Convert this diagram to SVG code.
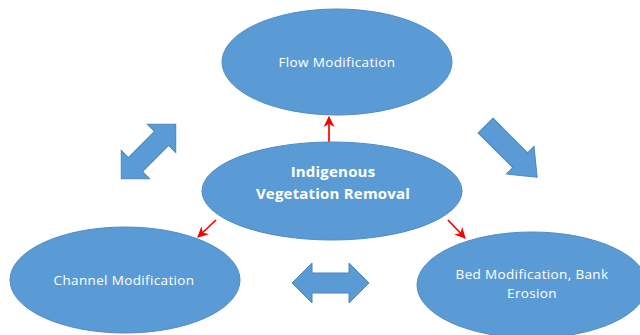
<svg xmlns="http://www.w3.org/2000/svg" width="640" height="335" viewBox="0 0 640 335">
<style>
.node{fill:#5b9bd5;stroke:#4f8cc6;stroke-width:1}
.lbl{font-family:"Open Sans","Liberation Sans",sans-serif;font-size:13.5px;letter-spacing:0.35px;fill:#ffffff;text-anchor:middle}
.bold{font-weight:bold;font-size:15px;letter-spacing:0.2px}
.blk{fill:#5b9bd5;stroke:#4a86c0;stroke-width:1}
.red{stroke:#ff0000;stroke-width:1.7;fill:none;marker-end:url(#ah)}
</style>
<defs>
<marker id="ah" viewBox="0 0 10 10" refX="9" refY="5" markerWidth="6.5" markerHeight="6.5" orient="auto" markerUnits="strokeWidth">
<path d="M0 0 L10 5 L0 10 L3 5 Z" fill="#ff0000"/>
</marker>
</defs>
<rect width="640" height="335" fill="#ffffff"/>
<g id="connectors">
<line class="red" x1="329" y1="142" x2="329" y2="117"/>
<line class="red" x1="216" y1="220" x2="198" y2="237"/>
<line class="red" x1="448" y1="220" x2="465" y2="238"/>
<path class="blk" transform="translate(148.5,151.5) rotate(-45)" d="M-38.5 0 L-18.5 -20 L-18.5 -10 L18.5 -10 L18.5 -20 L38.5 0 L18.5 20 L18.5 10 L-18.5 10 L-18.5 20 Z"/>
<path class="blk" transform="translate(511,151) rotate(45)" d="M-36 -10.5 L13 -10.5 L13 -19.5 L37 0 L13 19.5 L13 10.5 L-36 10.5 Z"/>
<path class="blk" transform="translate(330.5,283)" d="M-38.5 0 L-18.5 -20 L-18.5 -10 L18.5 -10 L18.5 -20 L38.5 0 L18.5 20 L18.5 10 L-18.5 10 L-18.5 20 Z"/>
</g>
<g id="flow">
<ellipse class="node" cx="337" cy="62" rx="115" ry="53"/>
<text class="lbl" x="337" y="66.5">Flow Modification</text>
</g>
<g id="veg">
<ellipse class="node" cx="332" cy="191" rx="130" ry="49"/>
<text class="lbl bold" x="333" y="177">Indigenous</text>
<text class="lbl bold" x="333" y="198.5">Vegetation Removal</text>
</g>
<g id="channel">
<ellipse class="node" cx="125" cy="280" rx="115" ry="53"/>
<text class="lbl" x="124" y="284.5">Channel Modification</text>
</g>
<g id="bed">
<ellipse class="node" cx="532" cy="285" rx="115" ry="53"/>
<text class="lbl" x="532" y="278.5">Bed Modification, Bank</text>
<text class="lbl" x="532" y="297.5">Erosion</text>
</g>
</svg>
